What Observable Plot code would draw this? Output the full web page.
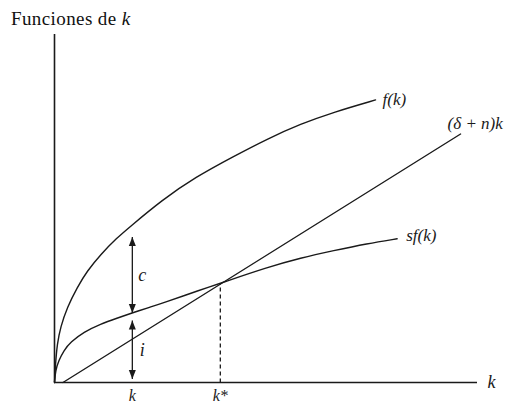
<!DOCTYPE html>
<html><head><meta charset="utf-8">
<script src="https://cdn.jsdelivr.net/npm/d3@7"></script>
<script src="https://cdn.jsdelivr.net/npm/@observablehq/plot@0.6"></script>
<style>
body{margin:0;background:#fff;}
#title{height:30px;box-sizing:border-box;padding:9px 0 0 11px;font-family:"Liberation Serif",serif;font-size:19px;line-height:19px;letter-spacing:0.4px;color:#111;white-space:nowrap;}
#title i{font-style:italic;}
svg{display:block;}
</style></head><body>
<div id="title">Funciones de <i>k</i></div>
<div id="chart"></div>
<script>
// f(k)
const kF = [0, 0.024, 0.064, 0.142, 0.30, 0.54, 0.77, 1.09, 1.48, 1.76, 2.55, 3.33, 4.24, 5.03, 5.82, 6.6, 7.59];
const fVals = [0, 0.54, 1.11, 1.59, 2.16, 2.74, 3.2, 3.68, 4.16, 4.45, 5.25, 5.9, 6.5, 7.0, 7.43, 7.77, 8.12];
// sf(k)
const kSf = [0, 0.024, 0.10, 0.22, 0.38, 0.69, 1.09, 1.48, 1.84, 2.27, 2.55, 3.45, 3.92, 5.03, 5.82, 6.6, 7.39, 8.1];
const sfVals = [0, 0.345, 0.63, 0.92, 1.16, 1.45, 1.68, 1.85, 2.0, 2.17, 2.28, 2.66, 2.85, 3.31, 3.58, 3.79, 3.99, 4.13];
// (δ + n)k
const kLine = [0.2, 9.6];
const lineVals = [0, 7.14];
// steady state and marked k
const kStar = 3.92;
const sfStar = 2.85;
const kMark = 1.84;
const cArrow = [4.18, 2.0];
const iArrow = [1.78, 0.1];
const xMax = 10;
const yMax = 10;
const curveLabels = ["f(k)", "sf(k)", "(δ + n)k"];
const arrowLabels = ["c", "i"];
const tickValues = [kMark, kStar];
const tickLabels = ["k", "k*"];
const axisLabel = "k";

const serif = "Liberation Serif";
const ink = "#1a1a1a";
const fData = kF.map((k, i) => ({k, v: fVals[i]}));
const sfData = kSf.map((k, i) => ({k, v: sfVals[i]}));
const lineData = kLine.map((k, i) => ({k, v: lineVals[i]}));
const last = a => a[a.length - 1];

const upTri = {draw(c){c.moveTo(0,0);c.lineTo(3.5,9);c.lineTo(-3.5,9);c.closePath();}};
const downTri = {draw(c){c.moveTo(0,0);c.lineTo(3.5,-9);c.lineTo(-3.5,-9);c.closePath();}};

const arrows = [cArrow, iArrow];
const chart = Plot.plot({
  width: 509,
  height: 375,
  marginLeft: 54,
  marginRight: 32,
  marginTop: 4,
  marginBottom: 23,
  style: {fontFamily: serif, background: "#fff", overflow: "visible"},
  x: {domain: [0, xMax], axis: null},
  y: {domain: [0, yMax], axis: null},
  marks: [
    Plot.ruleX([0], {stroke: ink, strokeWidth: 1.6}),
    Plot.ruleY([0], {stroke: ink, strokeWidth: 1.6}),
    Plot.line(fData, {x: "k", y: "v", curve: "basis", stroke: ink, strokeWidth: 1.4}),
    Plot.line(sfData, {x: "k", y: "v", curve: "basis", stroke: ink, strokeWidth: 1.4}),
    Plot.line(lineData, {x: "k", y: "v", stroke: ink, strokeWidth: 1.4}),
    Plot.link([kStar], {x1: d => d, x2: d => d, y1: () => 0, y2: () => sfStar, stroke: ink, strokeWidth: 1.3, strokeDasharray: "4,3"}),
    Plot.link(arrows, {x1: () => kMark, x2: () => kMark, y1: d => d[0], y2: d => d[1], stroke: ink, strokeWidth: 1.3}),
    Plot.dot(arrows, {x: () => kMark, y: d => d[0], symbol: upTri, fill: ink, stroke: "none"}),
    Plot.dot(arrows, {x: () => kMark, y: d => d[1], symbol: downTri, fill: ink, stroke: "none"}),
    Plot.text(arrows, {x: () => kMark, y: d => (d[0] + d[1]) / 2, text: (d, i) => arrowLabels[i], dx: 10, fontSize: 18, fontStyle: "italic", fill: ink}),
    Plot.text([last(fData)], {x: "k", y: "v", text: () => curveLabels[0], textAnchor: "start", dx: 7, dy: 0, fontSize: 17, fontStyle: "italic", fill: ink}),
    Plot.text([last(sfData)], {x: "k", y: "v", text: () => curveLabels[1], textAnchor: "start", dx: 9, dy: -3, fontSize: 17, fontStyle: "italic", fill: ink}),
    Plot.text([last(lineData)], {x: "k", y: "v", text: () => curveLabels[2], textAnchor: "start", dx: -13, dy: -10, fontSize: 17, fontStyle: "italic", fill: ink}),
    Plot.text([axisLabel], {x: () => xMax, y: () => 0, text: d => d, textAnchor: "start", dx: 10, fontSize: 18, fontStyle: "italic", fill: ink}),
    Plot.text(tickValues, {x: d => d, y: () => 0, text: (d, i) => tickLabels[i], lineAnchor: "top", dy: 7, fontSize: 16, fontStyle: "italic", fill: ink})
  ]
});
document.getElementById("chart").appendChild(chart);
</script>
</body></html>
